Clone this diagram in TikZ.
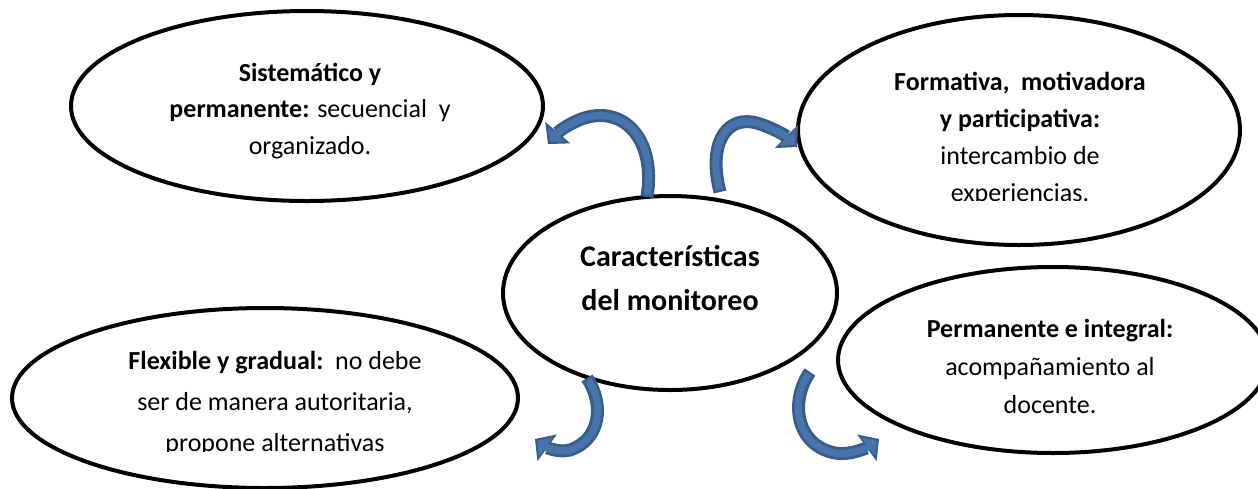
\documentclass[tikz,border=0pt]{standalone}
\usepackage{fontspec}
\setmainfont{Carlito}
\usetikzlibrary{shapes.geometric,arrows.meta}
\definecolor{arrowdark}{RGB}{56,93,138}
\definecolor{arrowfill}{RGB}{72,116,172}
\begin{document}
\begin{tikzpicture}[x=0.5pt,y=-0.5pt,
  bubble/.style={ellipse, draw=black, line width=2pt, inner sep=0pt},
  bodytext/.style={align=center, inner sep=0pt},
  arrowouter/.style={line width=6.5pt, draw=arrowdark,
     -{Triangle[length=7.5pt,width=16.5pt,line width=0pt]}},
  arrowinner/.style={line width=3.6pt, draw=arrowfill, shorten >=1.6pt, shorten <=1.3pt,
     -{Triangle[length=5pt,width=11.5pt,line width=0pt]}}]
\useasboundingbox (0,0) rectangle (1258,488);

% ellipses
\node[bubble, minimum width=236pt, minimum height=95pt] (tl) at (307,106) {};
\node[bubble, minimum width=221pt, minimum height=115pt] (tr) at (1019,130) {};
\node[bubble, minimum width=167pt, minimum height=97pt] (c) at (670,293) {};
\node[bubble, minimum width=253pt, minimum height=90pt] (bl) at (265,398) {};
\node[bubble, minimum width=215pt, minimum height=93pt] (br) at (1053,360) {};

% texts
\node[bodytext, font=\fontsize{13}{18.25}\selectfont] (ttl) at (310,111)
  {\textbf{Sistemático y}\\\textbf{permanente:} secuencial\ \ y\\organizado.};
\begin{scope}
\clip (780,0) rectangle (1258,200);
\node[bodytext, font=\fontsize{13}{18.5}\selectfont] (ttr) at (1020,139)
  {\textbf{Formativa,\ \ motivadora}\\\textbf{y participativa:}\\intercambio de\\experiencias.};
\end{scope}
\node[bodytext, font=\fontsize{15}{22}\selectfont\bfseries] (tc) at (670,278)
  {Características\\del monitoreo};
\node[bodytext, font=\fontsize{13}{19}\selectfont] (tbr) at (1050,366)
  {\textbf{Permanente e integral:}\\acompañamiento al\\docente.};
\begin{scope}
\clip (0,300) rectangle (530,451);
\node[bodytext, font=\fontsize{13}{20.5}\selectfont] (tbl) at (275,403)
  {\textbf{Flexible y gradual:}\ \ no debe\\ser de manera autoritaria,\\propone alternativas};
\end{scope}

% arrow end points
\coordinate (aS) at (647,197);  \coordinate (aE) at (548,144);
\coordinate (bS) at (720,192);  \coordinate (bE) at (797,147);
\coordinate (cS) at (587,378);  \coordinate (cE) at (535,439);
\coordinate (dS) at (810,372);  \coordinate (dE) at (879,439);

\foreach \s in {arrowouter,arrowinner}{
  \draw[\s] (aS) .. controls (656,140) and (625,108) .. (588,117)
            .. controls (575,120) and (560,130) .. (aE);
  \draw[\s] (bS) .. controls (708,145) and (725,118) .. (752,122)
            .. controls (765,124) and (785,135) .. (bE);
  \draw[\s] (cS) .. controls (605,405) and (600,440) .. (570,450)
            .. controls (558,453) and (546,447) .. (cE);
  \draw[\s] (dS) .. controls (790,400) and (795,445) .. (835,453)
            .. controls (850,456) and (868,447) .. (dE);
}
\end{tikzpicture}
\end{document}
